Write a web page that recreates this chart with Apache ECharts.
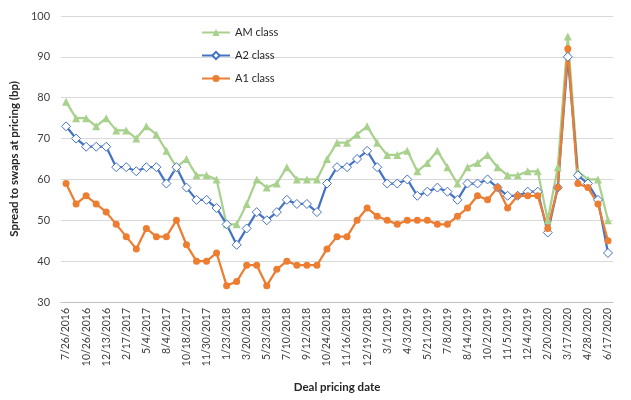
<!DOCTYPE html>
<html><head><meta charset="utf-8">
<script src="https://cdn.jsdelivr.net/npm/echarts@6/dist/echarts.min.js"></script>
<style>html,body{margin:0;padding:0;background:#fff}#c{width:631px;height:400px}</style>
</head><body><div id="c"></div>
<script>
const tickLabels = ['7/26/2016','10/26/2016','12/13/2016','2/17/2017','5/4/2017','8/4/2017','10/18/2017','11/30/2017','1/23/2018','3/20/2018','5/23/2018','7/10/2018','9/12/2018','10/24/2018','11/16/2018','12/19/2018','3/1/2019','4/3/2019','5/21/2019','7/8/2019','8/14/2019','10/2/2019','11/5/2019','12/4/2019','2/20/2020','3/17/2020','4/28/2020','6/17/2020'];
// 55 deals; only every other date is labelled in the reference
const categories = [];
for (let i = 0; i < tickLabels.length; i++) { categories.push(tickLabels[i]); if (i < tickLabels.length - 1) categories.push(''); }
const amClass = [79,75,75,73,75,72,72,70,73,71,67,63,65,61,61,60,49,49,54,60,58,59,63,60,60,60,65,69,69,71,73,69,66,66,67,62,64,67,63,59,63,64,66,63,61,61,62,62,50,63,95,62,60,60,50];
const a2Class = [73,70,68,68,68,63,63,62,63,63,59,63,58,55,55,53,49,44,48,52,50,52,55,54,54,52,59,63,63,65,67,63,59,59,60,56,57,58,57,55,59,59,60,58,56,56,57,57,47,58,90,61,59,55,42];
const a1Class = [59,54,56,54,52,49,46,43,48,46,46,50,44,40,40,42,34,35,39,39,34,38,40,39,39,39,43,46,46,50,53,51,50,49,50,50,50,49,49,51,53,56,55,58,53,56,56,56,48,58,92,59,58,54,45];

const font = 'Lato, "Liberation Sans", sans-serif';
const chart = echarts.init(document.getElementById('c'), null, {renderer: 'canvas'});
chart.setOption({
  animation: false,
  backgroundColor: '#fff',
  textStyle: {fontFamily: font},
  grid: {left: 59, right: 18, top: 16, bottom: 98},
  legend: {
    orient: 'vertical', left: 196, top: 22, itemGap: 12, itemWidth: 28, itemHeight: 9,
    textStyle: {fontFamily: font, fontSize: 11, color: '#262626'},
    data: ['AM class', 'A2 class', 'A1 class']
  },
  xAxis: {
    type: 'category', data: categories, boundaryGap: true,
    name: 'Deal pricing date', nameLocation: 'middle', nameGap: 79,
    nameTextStyle: {fontFamily: font, fontSize: 11.5, fontWeight: 'bold', color: '#262626'},
    axisLine: {lineStyle: {color: '#BFBFBF'}},
    axisTick: {show: false},
    axisLabel: {interval: 1, rotate: 90, fontFamily: font, fontSize: 10.5, color: '#404040', margin: 6}
  },
  yAxis: {
    type: 'value', min: 30, max: 100, interval: 10,
    name: 'Spread to swaps at pricing (bp)', nameLocation: 'middle', nameGap: 40,
    nameTextStyle: {fontFamily: font, fontSize: 11.5, fontWeight: 'bold', color: '#262626'},
    axisLine: {show: false}, axisTick: {show: false},
    axisLabel: {fontFamily: font, fontSize: 11, color: '#404040', margin: 11},
    splitLine: {lineStyle: {color: '#D9D9D9'}}
  },
  series: [
    {name: 'AM class', type: 'line', data: amClass, symbol: 'triangle', symbolSize: 8, showAllSymbol: true,
     itemStyle: {color: '#A9D18E'}, lineStyle: {color: '#A9D18E', width: 2.25}},
    {name: 'A2 class', type: 'line', data: a2Class, symbol: 'diamond', symbolSize: 9, showAllSymbol: true,
     itemStyle: {color: '#fff', borderColor: '#4472C4', borderWidth: 1}, lineStyle: {color: '#4472C4', width: 2.25}},
    {name: 'A1 class', type: 'line', data: a1Class, symbol: 'circle', symbolSize: 7, showAllSymbol: true,
     itemStyle: {color: '#ED7D31'}, lineStyle: {color: '#ED7D31', width: 2.25}}
  ]
});
</script></body></html>
